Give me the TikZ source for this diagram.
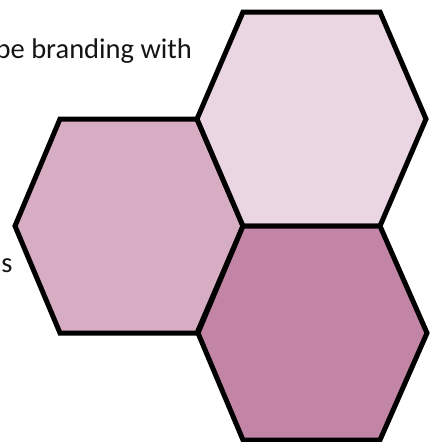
\documentclass[tikz,border=0pt]{standalone}
\usepackage{fontspec}
\setmainfont{Carlito}
\definecolor{hexlight}{RGB}{234,214,226}
\definecolor{hexmid}{RGB}{215,173,196}
\definecolor{hexdark}{RGB}{195,133,165}
\definecolor{txtcol}{RGB}{20,20,20}
\begin{document}
\begin{tikzpicture}[x=1pt,y=-1pt,
  hexline/.style={draw=black,line width=5pt,line join=miter},
  lbl/.style={inner sep=0pt,outer sep=0pt,font=\fontsize{28.5}{32}\selectfont,text=txtcol}]
\useasboundingbox (0,0) rectangle (436,442);
\clip (0,0) rectangle (436,442);
% text
\node[lbl,anchor=base east] (t1) at (192,58) {pe branding with};
\node[lbl,anchor=base west] (t2) at (1.5,272) {s};
% hexagons
\path[hexline,fill=hexmid] (60,119) -- (197,119) -- (243,226) -- (197,333) -- (60,333) -- (15,226) -- cycle;
\path[hexline,fill=hexlight] (243,12) -- (380,12) -- (426,119) -- (380,226) -- (243,226) -- (197,119) -- cycle;
\path[hexline,fill=hexdark] (243,226) -- (380,226) -- (427,333) -- (380,440) -- (243,440) -- (198,333) -- cycle;
\end{tikzpicture}
\end{document}
